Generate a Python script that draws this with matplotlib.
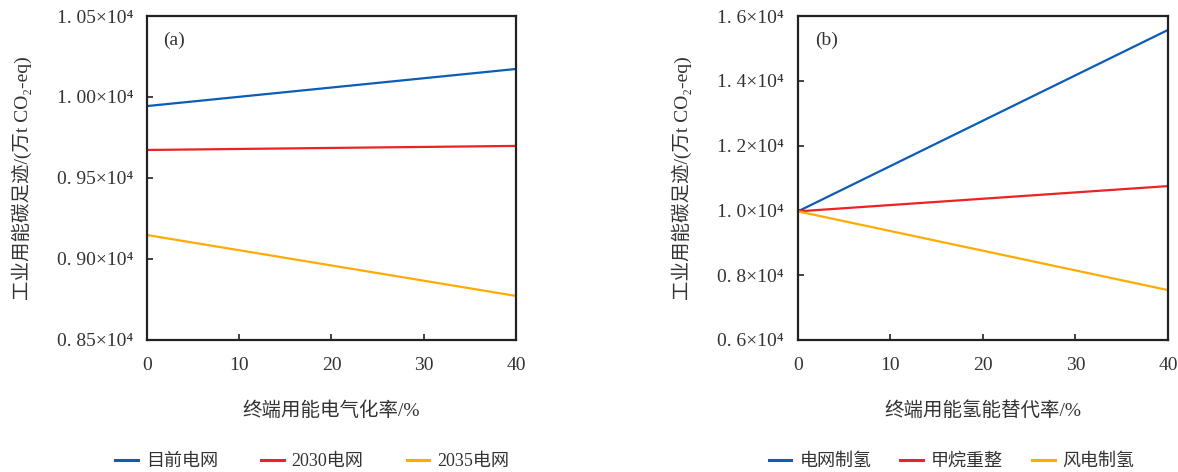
import matplotlib.pyplot as plt
from matplotlib.lines import Line2D

plt.rcParams['font.family'] = ['Liberation Serif', 'Noto Sans CJK SC', 'DejaVu Serif']
plt.rcParams['font.size'] = 14

# 终端用能替代率 (%)
x_rate = [0, 40]

# (a) 电气化率 vs 碳足迹 (×10^4 万t CO2-eq)
grid_now = [0.9944, 1.0173]
grid_2030 = [0.9673, 0.9698]
grid_2035 = [0.9148, 0.8772]
labels_a = ['目前电网', '2030电网', '2035电网']

# (b) 氢能替代率 vs 碳足迹
h2_grid = [0.9970, 1.557]
h2_smr = [0.9970, 1.075]
h2_wind = [0.9970, 0.754]
labels_b = ['电网制氢', '甲烷重整', '风电制氢']

yticks_a = [0.85, 0.90, 0.95, 1.00, 1.05]
yticks_b = [0.6, 0.8, 1.0, 1.2, 1.4, 1.6]
xticks = [0, 10, 20, 30, 40]

colors = ['#0d5cb6', '#ee2222', '#ffab00']
ylab = '工业用能碳足迹/(万t CO₂-eq)'
ink = '#333333'

fig = plt.figure(figsize=(11.78, 4.72), dpi=100)
ax1 = fig.add_axes([0.1248, 0.2797, 0.3132, 0.6864])
ax2 = fig.add_axes([0.6774, 0.2797, 0.3141, 0.6864])


def style(ax, yticks, fmt, xlabel, tag):
    ax.set_xlim(0, 40)
    ax.set_ylim(yticks[0], yticks[-1])
    ax.set_xticks(xticks)
    ax.set_yticks(yticks)
    ax.set_yticklabels([fmt.format(v).replace('.', '. ') + '×10⁴' for v in yticks])
    ax.tick_params(direction='in', length=4, width=1.2, colors='#222222',
                   labelcolor=ink, pad=10)
    ax.tick_params(axis='x', pad=12)
    for sp in ax.spines.values():
        sp.set_linewidth(1.6)
        sp.set_color('#222222')
    ax.set_xlabel(xlabel, labelpad=20, color=ink)
    ax.set_ylabel(ylab, labelpad=18, color=ink)
    ax.text(0.045, 0.925, tag, transform=ax.transAxes, ha='left', va='center',
            color=ink)


for ys, c in zip([grid_now, grid_2030, grid_2035], colors):
    ax1.plot(x_rate, ys, color=c, lw=1.6)
for ys, c in zip([h2_grid, h2_smr, h2_wind], colors):
    ax2.plot(x_rate, ys, color=c, lw=1.6)

style(ax1, yticks_a, '{:.2f}', '终端用能电气化率/%', '(a)')
style(ax2, yticks_b, '{:.1f}', '终端用能氢能替代率/%', '(b)')

handles = [Line2D([], [], color=c, lw=2.2) for c in colors]
leg_kw = dict(loc='center', ncol=3, frameon=False, handlelength=1.25,
              handletextpad=0.45, labelcolor=ink, fontsize=13)
fig.legend(handles, labels_a, bbox_to_anchor=(0.265, 0.022),
           columnspacing=2.4, **leg_kw)
fig.legend(handles, labels_b, bbox_to_anchor=(0.808, 0.022),
           columnspacing=1.6, **leg_kw)

fig.savefig('out.png', dpi=100)
